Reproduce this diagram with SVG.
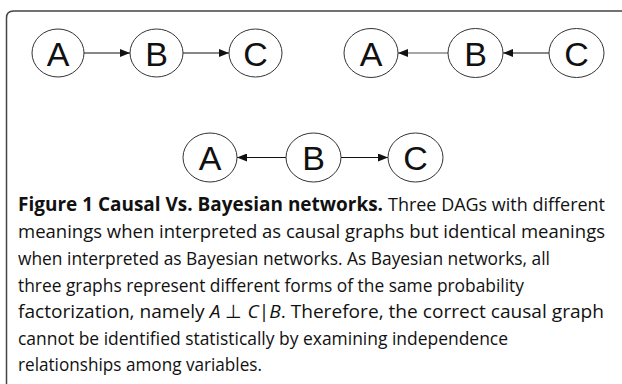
<svg xmlns="http://www.w3.org/2000/svg" width="622" height="384" viewBox="0 0 622 384">
<defs>
<marker id="ah" viewBox="0 0 10 8" refX="10" refY="4" markerWidth="10" markerHeight="8" markerUnits="userSpaceOnUse" orient="auto">
<path d="M0,0 L10,4 L0,8 z" fill="#111"/>
</marker>
<style>
.node ellipse{fill:#fff;stroke:#333;stroke-width:1}
.node text{font-family:"Liberation Sans",Arial,sans-serif;font-size:34px;fill:#111;text-anchor:middle}
.edge{stroke:#111;stroke-width:1;fill:none;marker-end:url(#ah)}
.cap{font-family:"Open Sans","Noto Sans",sans-serif;font-size:19px;fill:#111}
.b{font-weight:bold}
</style>
</defs>
<rect width="622" height="384" fill="#fff"/>
<path d="M6.5,400 L6.5,18 Q6.5,11 13.5,11 L640,11" fill="none" stroke="#444" stroke-width="1.5"/>
<g id="connectors">
<line class="edge" x1="84" y1="53" x2="130" y2="53"/>
<line class="edge" x1="183" y1="53" x2="229" y2="53"/>
<line class="edge" x1="448" y1="53" x2="398" y2="53" style="stroke:#888;stroke-width:1.5"/>
<line class="edge" x1="549" y1="53" x2="503" y2="53"/>
<line class="edge" x1="286" y1="157.5" x2="237" y2="157.5"/>
<line class="edge" x1="341" y1="157.5" x2="388" y2="157.5"/>
</g>
<g id="n1A" class="node"><ellipse cx="58" cy="53" rx="26" ry="24"/><text x="58" y="65.5">A</text></g>
<g id="n1B" class="node"><ellipse cx="156.5" cy="53" rx="26.5" ry="24"/><text x="156.5" y="65.5">B</text></g>
<g id="n1C" class="node"><ellipse cx="255.5" cy="53" rx="26.5" ry="24"/><text x="255.5" y="65.5">C</text></g>
<g id="n2A" class="node"><ellipse cx="371" cy="53" rx="27" ry="24.5"/><text x="371" y="65.5">A</text></g>
<g id="n2B" class="node"><ellipse cx="475.5" cy="53" rx="27.5" ry="24.5"/><text x="475.5" y="65.5">B</text></g>
<g id="n2C" class="node"><ellipse cx="576.5" cy="53" rx="27.5" ry="24.5"/><text x="576.5" y="65.5">C</text></g>
<g id="n3A" class="node"><ellipse cx="210" cy="157.5" rx="27" ry="24.5"/><text x="210" y="170">A</text></g>
<g id="n3B" class="node"><ellipse cx="313.5" cy="157.5" rx="27.5" ry="24.5"/><text x="313.5" y="170">B</text></g>
<g id="n3C" class="node"><ellipse cx="415.5" cy="157.5" rx="27.5" ry="24.5"/><text x="415.5" y="170">C</text></g>
<g id="caption">
<text class="cap b" x="18" y="211" textLength="365" lengthAdjust="spacingAndGlyphs">Figure 1 Causal Vs. Bayesian networks.</text>
<text class="cap" x="388" y="211" textLength="217" lengthAdjust="spacingAndGlyphs">Three DAGs with different</text>
<text class="cap" x="18" y="238" textLength="587" lengthAdjust="spacingAndGlyphs">meanings when interpreted as causal graphs but identical meanings</text>
<text class="cap" x="18" y="265" textLength="532" lengthAdjust="spacingAndGlyphs">when interpreted as Bayesian networks. As Bayesian networks, all</text>
<text class="cap" x="18" y="292" textLength="506" lengthAdjust="spacingAndGlyphs">three graphs represent different forms of the same probability</text>
<text class="cap" x="18" y="318" textLength="586" lengthAdjust="spacingAndGlyphs">factorization, namely <tspan font-style="italic">A</tspan> ⊥ <tspan font-style="italic">C</tspan>|<tspan font-style="italic">B</tspan>. Therefore, the correct causal graph</text>
<text class="cap" x="18" y="345" textLength="490" lengthAdjust="spacingAndGlyphs">cannot be identified statistically by examining independence</text>
<text class="cap" x="18" y="371" textLength="244" lengthAdjust="spacingAndGlyphs">relationships among variables.</text>
</g>
</svg>
